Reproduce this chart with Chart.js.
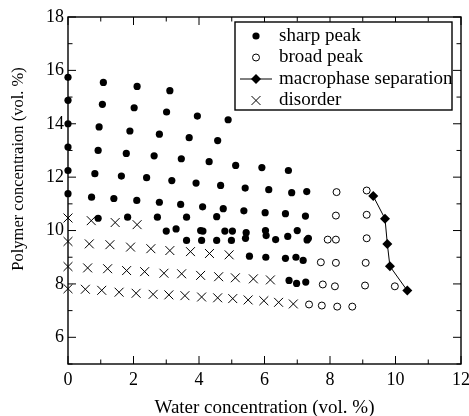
<!DOCTYPE html>
<html>
<head>
<meta charset="utf-8">
<title>Phase diagram</title>
<script src="https://cdn.jsdelivr.net/npm/chart.js"></script>
<style>
  html, body { margin: 0; padding: 0; background: #fff; }
  #chart { display: block; }
</style>
</head>
<body>
<canvas id="chart" width="469" height="416"></canvas>
<script>
// tick labels
const xTicks = [0, 2, 4, 6, 8, 10, 12];
const yTicks = [6, 8, 10, 12, 14, 16, 18];

// [water vol. %, polymer vol. %]
const sharpPeak = [
    [0, 15.74], [1.08, 15.55], [2.11, 15.40], [3.11, 15.24],
    [0, 14.88], [1.05, 14.73], [2.02, 14.60], [3.01, 14.44], [3.95, 14.29], [4.89, 14.15],
    [0, 14.00], [0.95, 13.88], [1.89, 13.73], [2.79, 13.61], [3.70, 13.48], [4.57, 13.37],
    [0, 13.13], [0.92, 13.00], [1.78, 12.89], [2.63, 12.80], [3.46, 12.69], [4.31, 12.58], [5.12, 12.44], [5.92, 12.36], [6.73, 12.25],
    [0, 12.25], [0.82, 12.13], [1.63, 12.04], [2.40, 11.98], [3.17, 11.87], [3.91, 11.78], [4.66, 11.69], [5.41, 11.59], [6.13, 11.53], [6.83, 11.42], [7.29, 11.46],
    [0, 11.38], [0.72, 11.25], [1.40, 11.20], [2.10, 11.13], [2.79, 11.06], [3.44, 10.98], [4.11, 10.89], [4.74, 10.82], [5.37, 10.74], [6.02, 10.67], [6.64, 10.63], [7.25, 10.54],
    [0.92, 10.46], [1.82, 10.50], [2.73, 10.50], [3.62, 10.50], [4.54, 10.52],
    [3.00, 9.98], [3.30, 10.06], [4.05, 10.00], [4.12, 9.98], [4.79, 9.98], [5.02, 9.98], [5.44, 9.92], [5.42, 9.71],
    [6.03, 10.00], [6.05, 9.81], [6.34, 9.66], [6.71, 9.78], [7.00, 10.00], [7.34, 9.71], [7.30, 9.65],
    [3.62, 9.63], [4.08, 9.63], [4.54, 9.63], [4.99, 9.63],
    [5.54, 9.04], [6.04, 9.00], [6.64, 8.96], [6.96, 9.00], [7.18, 8.88],
    [6.75, 8.13], [6.98, 8.02], [7.26, 8.07]
];
const broadPeak = [
    [8.20, 11.44], [9.12, 11.50],
    [8.18, 10.56], [9.12, 10.59],
    [7.93, 9.66], [8.18, 9.66], [9.12, 9.71],
    [7.72, 8.81], [8.18, 8.79], [9.09, 8.79],
    [7.78, 7.98], [8.15, 7.91], [9.07, 7.94], [9.98, 7.91],
    [7.36, 7.23], [7.75, 7.19], [8.22, 7.15], [8.68, 7.15]
];
const macrophase = [
    [9.32, 11.29], [9.68, 10.44], [9.75, 9.50], [9.83, 8.66], [10.36, 7.75]
];
const disorder = [
    [0, 10.47], [0.71, 10.37], [1.44, 10.30], [2.11, 10.22],
    [0, 9.59], [0.65, 9.50], [1.28, 9.47], [1.91, 9.38], [2.53, 9.32], [3.11, 9.25], [3.74, 9.21], [4.32, 9.14], [4.92, 9.09],
    [0, 8.65], [0.60, 8.60], [1.21, 8.57], [1.79, 8.50], [2.34, 8.46], [2.93, 8.40], [3.47, 8.38], [4.05, 8.32], [4.60, 8.27], [5.11, 8.23], [5.66, 8.19], [6.18, 8.15],
    [0, 7.82], [0.53, 7.80], [1.03, 7.76], [1.56, 7.69], [2.08, 7.65], [2.60, 7.61], [3.08, 7.59], [3.57, 7.56], [4.08, 7.51], [4.57, 7.48], [5.03, 7.45], [5.50, 7.40], [5.98, 7.37], [6.43, 7.31], [6.88, 7.25]
];

const serif = '"Liberation Serif", "Times New Roman", serif';

function toPoints(list) {
    return list.map(function(p) { return { x: p[0], y: p[1] }; });
}

// box with inward ticks on all four sides
const framePlugin = {
    id: 'frame',
    beforeDatasetsDraw: function(chart) {
        const ctx = chart.ctx;
        const a = chart.chartArea;
        const x = chart.scales.x;
        const y = chart.scales.y;
        ctx.save();
        ctx.strokeStyle = '#000';
        ctx.lineWidth = 1.4;
        ctx.strokeRect(a.left, a.top, a.right - a.left, a.bottom - a.top);
        ctx.lineWidth = 1;
        ctx.beginPath();
        for (let v = Math.ceil(x.min); v <= x.max; v++) {
            const px = x.getPixelForValue(v);
            const len = v % 2 === 0 ? 8 : 4.5;
            ctx.moveTo(px, a.bottom); ctx.lineTo(px, a.bottom - len);
            ctx.moveTo(px, a.top); ctx.lineTo(px, a.top + len);
        }
        for (let v = Math.ceil(y.min); v <= y.max; v++) {
            const py = y.getPixelForValue(v);
            const len = v % 2 === 0 ? 8 : 4.5;
            ctx.moveTo(a.left, py); ctx.lineTo(a.left + len, py);
            ctx.moveTo(a.right, py); ctx.lineTo(a.right - len, py);
        }
        ctx.stroke();
        ctx.restore();
    },
    afterDraw: function(chart) {
        // vertical axis title
        const ctx = chart.ctx;
        ctx.save();
        ctx.translate(19, 169);
        ctx.rotate(-Math.PI / 2);
        ctx.font = '16.5px ' + serif;
        ctx.fillStyle = '#000';
        ctx.textAlign = 'center';
        ctx.textBaseline = 'middle';
        ctx.fillText('Polymer concentraion (vol. %)', 0, 0);
        ctx.restore();
    }
};

// boxed legend in the upper right of the plot
const legendBoxPlugin = {
    id: 'legendBox',
    afterDatasetsDraw: function(chart) {
        const ctx = chart.ctx;
        const box = { left: 235, top: 22, width: 217, height: 88 };
        ctx.save();
        ctx.fillStyle = '#fff';
        ctx.fillRect(box.left, box.top, box.width, box.height);
        ctx.strokeStyle = '#000';
        ctx.lineWidth = 1.4;
        ctx.strokeRect(box.left, box.top, box.width, box.height);

        chart.data.datasets.forEach(function(ds, i) {
            const cy = box.top + 14 + i * 21.5;
            const cx = box.left + 21;
            if (ds.showLine) {
                ctx.strokeStyle = ds.borderColor;
                ctx.lineWidth = ds.borderWidth;
                ctx.beginPath();
                ctx.moveTo(cx - 16, cy);
                ctx.lineTo(cx + 16, cy);
                ctx.stroke();
            }
            ctx.fillStyle = ds.pointBackgroundColor;
            ctx.strokeStyle = ds.pointBorderColor;
            ctx.lineWidth = ds.pointBorderWidth;
            Chart.helpers.drawPoint(ctx, {
                pointStyle: ds.pointStyle,
                radius: ds.pointRadius,
                borderWidth: ds.pointBorderWidth,
                rotation: 0
            }, cx, cy);
            ctx.fillStyle = '#000';
            ctx.font = '19px ' + serif;
            ctx.textAlign = 'left';
            ctx.textBaseline = 'middle';
            ctx.fillText(ds.label, box.left + 44, cy);
        });
        ctx.restore();
    }
};

new Chart(document.getElementById('chart'), {
    type: 'scatter',
    data: {
        datasets: [{
            label: 'sharp peak',
            data: toPoints(sharpPeak),
            pointStyle: 'circle',
            pointRadius: 3.6,
            pointBackgroundColor: '#000',
            pointBorderColor: '#000',
            pointBorderWidth: 0,
            showLine: false,
            clip: false
        }, {
            label: 'broad peak',
            data: toPoints(broadPeak),
            pointStyle: 'circle',
            pointRadius: 3.5,
            pointBackgroundColor: '#fff',
            pointBorderColor: '#000',
            pointBorderWidth: 1,
            showLine: false,
            clip: false
        }, {
            label: 'macrophase separation',
            data: toPoints(macrophase),
            pointStyle: 'rectRot',
            pointRadius: 5,
            pointBackgroundColor: '#000',
            pointBorderColor: '#000',
            pointBorderWidth: 0,
            showLine: true,
            borderColor: '#000',
            borderWidth: 1,
            tension: 0,
            clip: false
        }, {
            label: 'disorder',
            data: toPoints(disorder),
            pointStyle: 'crossRot',
            pointRadius: 6.3,
            pointBackgroundColor: '#000',
            pointBorderColor: '#000',
            pointBorderWidth: 1,
            showLine: false,
            clip: false
        }]
    },
    options: {
        responsive: false,
        animation: false,
        devicePixelRatio: 1,
        layout: { padding: { left: 0, top: 17, right: 8, bottom: 0 } },
        plugins: {
            legend: { display: false },
            tooltip: { enabled: false }
        },
        scales: {
            x: {
                type: 'linear',
                min: 0,
                max: 12,
                afterBuildTicks: function(scale) {
                    scale.ticks = xTicks.map(function(v) { return { value: v }; });
                },
                afterFit: function(scale) {
                    scale.height = 52;
                    scale.paddingLeft = 0;
                    scale.paddingRight = 0;
                },
                grid: { display: false, drawTicks: false },
                border: { display: false },
                ticks: {
                    color: '#000',
                    font: { family: serif, size: 18 },
                    padding: 5,
                    maxRotation: 0,
                    autoSkip: false
                },
                title: {
                    display: true,
                    text: 'Water concentration (vol. %)',
                    color: '#000',
                    font: { family: serif, size: 19, lineHeight: 1 },
                    padding: { top: 0, bottom: -2 }
                }
            },
            y: {
                type: 'linear',
                min: 5,
                max: 18,
                afterBuildTicks: function(scale) {
                    scale.ticks = yTicks.map(function(v) { return { value: v }; });
                },
                afterFit: function(scale) {
                    scale.width = 68;
                    scale.paddingTop = 0;
                    scale.paddingBottom = 0;
                },
                grid: { display: false, drawTicks: false },
                border: { display: false },
                ticks: {
                    color: '#000',
                    font: { family: serif, size: 18 },
                    padding: 4,
                    autoSkip: false
                }
            }
        }
    },
    plugins: [framePlugin, legendBoxPlugin]
});
</script>
</body>
</html>
